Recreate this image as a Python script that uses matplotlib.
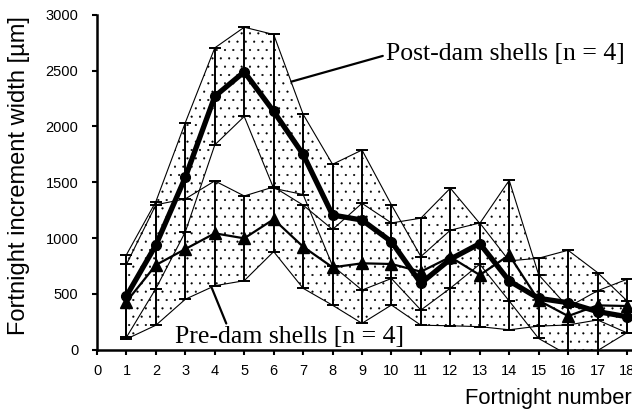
import matplotlib
matplotlib.use("Agg")
import matplotlib.pyplot as plt
import numpy as np

fortnights = list(range(1, 19))
x_ticks = list(range(0, 19))
y_ticks = [0, 500, 1000, 1500, 2000, 2500, 3000]

post_mean = [480, 937, 1545, 2270, 2490, 2135, 1750, 1206, 1161, 967, 594, 810, 950, 615, 459, 420, 340, 294]
post_sd = [370, 390, 490, 435, 400, 690, 360, 455, 628, 330, 240, 260, 185, 180, 360, 470, 350, 143]
pre_mean = [429, 758, 901, 1042, 997, 1168, 922, 737, 773, 767, 698, 830, 668, 847, 440, 300, 396, 390]
pre_sd = [335, 540, 450, 470, 380, 290, 373, 340, 538, 368, 480, 617, 463, 670, 230, 80, 131, 240]

post_label = "Post-dam shells [n = 4]"
pre_label = "Pre-dam shells [n = 4]"
x_label = "Fortnight number"
y_label = "Fortnight increment width [µm]"

plt.rcParams['font.family'] = ['Liberation Sans', 'DejaVu Sans']
plt.rcParams['hatch.linewidth'] = 0.3
plt.rcParams['hatch.color'] = 'black'

fig = plt.figure(figsize=(6.32, 4.16), dpi=100)
ax = fig.add_axes([0.1535, 0.1598, 0.8465, 0.8042])

x = np.array(fortnights)
pm, ps = np.array(post_mean), np.array(post_sd)
qm, qs = np.array(pre_mean), np.array(pre_sd)

for m, s in [(pm, ps), (qm, qs)]:
    ax.fill_between(x, m - s, m + s, facecolor='white', hatch='..',
                    edgecolor='black', linewidth=0, zorder=1)
for m, s in [(pm, ps), (qm, qs)]:
    ax.plot(x, m + s, color='black', lw=0.8, zorder=2)
    ax.plot(x, m - s, color='black', lw=0.8, zorder=2)
    ax.errorbar(x, m, yerr=s, fmt='none', ecolor='black', elinewidth=1.4,
                capsize=4, capthick=1.4, zorder=3)

ax.plot(x, qm, color='black', lw=1.6, marker='^', markersize=8, zorder=4)
ax.plot(x, pm, color='black', lw=3.8, marker='o', markersize=7, zorder=5)

ax.set_xlim(0, 18.17)
ax.set_ylim(0, 3000)
ax.set_xticks(x_ticks)
ax.set_yticks(y_ticks)
ax.tick_params(direction='out', length=3.5, width=1.5, labelsize=10.5)
ax.tick_params(axis='y', pad=10)
ax.tick_params(axis='x', pad=7)
for sp in ['top', 'right']:
    ax.spines[sp].set_visible(False)
for sp in ['left', 'bottom']:
    ax.spines[sp].set_linewidth(1.8)

ax.annotate(post_label, xy=(6.6, 2402), xytext=(9.8, 2596),
            textcoords='data', ha='left', va='baseline',
            fontsize=18.5, family=['Liberation Serif', 'DejaVu Serif'],
            arrowprops=dict(arrowstyle='-', color='black', lw=1.6,
                            shrinkA=0, shrinkB=0,
                            relpos=(0, 0.45)),
            annotation_clip=False, zorder=6)
ax.annotate(pre_label, xy=(3.9, 551), xytext=(2.64, 56),
            textcoords='data', ha='left', va='baseline',
            fontsize=18.5, family=['Liberation Serif', 'DejaVu Serif'],
            arrowprops=dict(arrowstyle='-', color='black', lw=1.6,
                            shrinkA=0, shrinkB=0,
                            relpos=(0.23, 1.0)),
            annotation_clip=False, zorder=6)

fig.text(0.999, 0.043, x_label, ha='right', va='center', fontsize=15.8)
fig.text(0.030, 0.579, y_label, ha='center', va='center', rotation=90, fontsize=17)

fig.savefig('out.png', dpi=100)
